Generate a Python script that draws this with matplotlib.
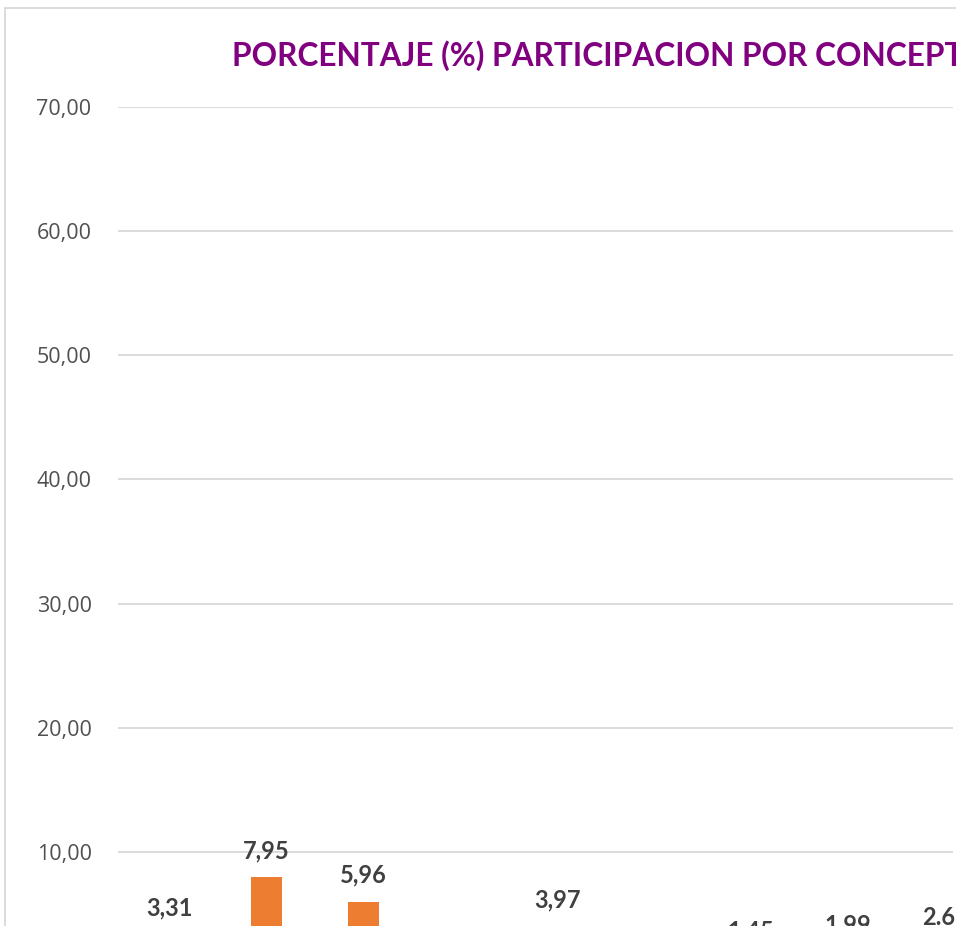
import matplotlib
matplotlib.use('Agg')
import matplotlib.pyplot as plt
from matplotlib.patches import Rectangle

# data (only the lower-left part of the original chart is visible)
categories = ['C1', 'C2', 'C3', 'C4', 'C5', 'C6', 'C7', 'C8', 'C9']
values = [3.31, 7.95, 5.96, 0.66, 3.97, 0.33, 1.45, 1.99, 2.52]
labels = ['3,31', '7,95', '5,96', '0,66', '3,97', '0,33', '1,45', '1,99', '2.61']
yticks = [0, 10, 20, 30, 40, 50, 60, 70]
title = 'PORCENTAJE (%) PARTICIPACION POR CONCEPTO'

W, H = 956, 926
fig = plt.figure(figsize=(W / 100, H / 100), dpi=100)

# plot area runs past the bottom and right edges of the picture
ax = fig.add_axes([118 / W, 1 - 976 / H, (953 - 118) / W, (976 - 107) / H])
x = list(range(len(categories)))
ax.bar(x, values, width=0.32, color='#ed7d31', zorder=3)
for xi, v, lab in zip(x, values, labels):
    ax.annotate(lab, (xi, v), xytext=(0, 11), textcoords='offset points',
                ha='center', va='bottom', fontsize=17, fontweight='bold',
                family='Lato', color='#404040', annotation_clip=False)

ax.set_ylim(0, 70)
ax.set_xlim(-0.526, 8.08)
ax.set_yticks(yticks)
ax.set_yticklabels([f'{t:.2f}'.replace('.', ',') for t in yticks],
                   family='Open Sans', fontsize=15.5, color='#505050')
ax.set_xticks([])
ax.tick_params(axis='y', length=0, pad=19)
ax.grid(axis='y', color='#d9d9d9', linewidth=1.3, zorder=0)
for s in ax.spines.values():
    s.set_visible(False)

fig.text(232 / W, 1 - 40 / H, title, ha='left', va='top', fontsize=22.8,
         fontweight='bold', family='Lato', color='#800080')

# chart frame
fig.patches.append(Rectangle((5 / W, -0.1), 1.2, 1 - 8 / H + 0.1,
                             transform=fig.transFigure, fill=False,
                             edgecolor='#d9d9d9', linewidth=1.3))

fig.savefig('out.png', dpi=100)
